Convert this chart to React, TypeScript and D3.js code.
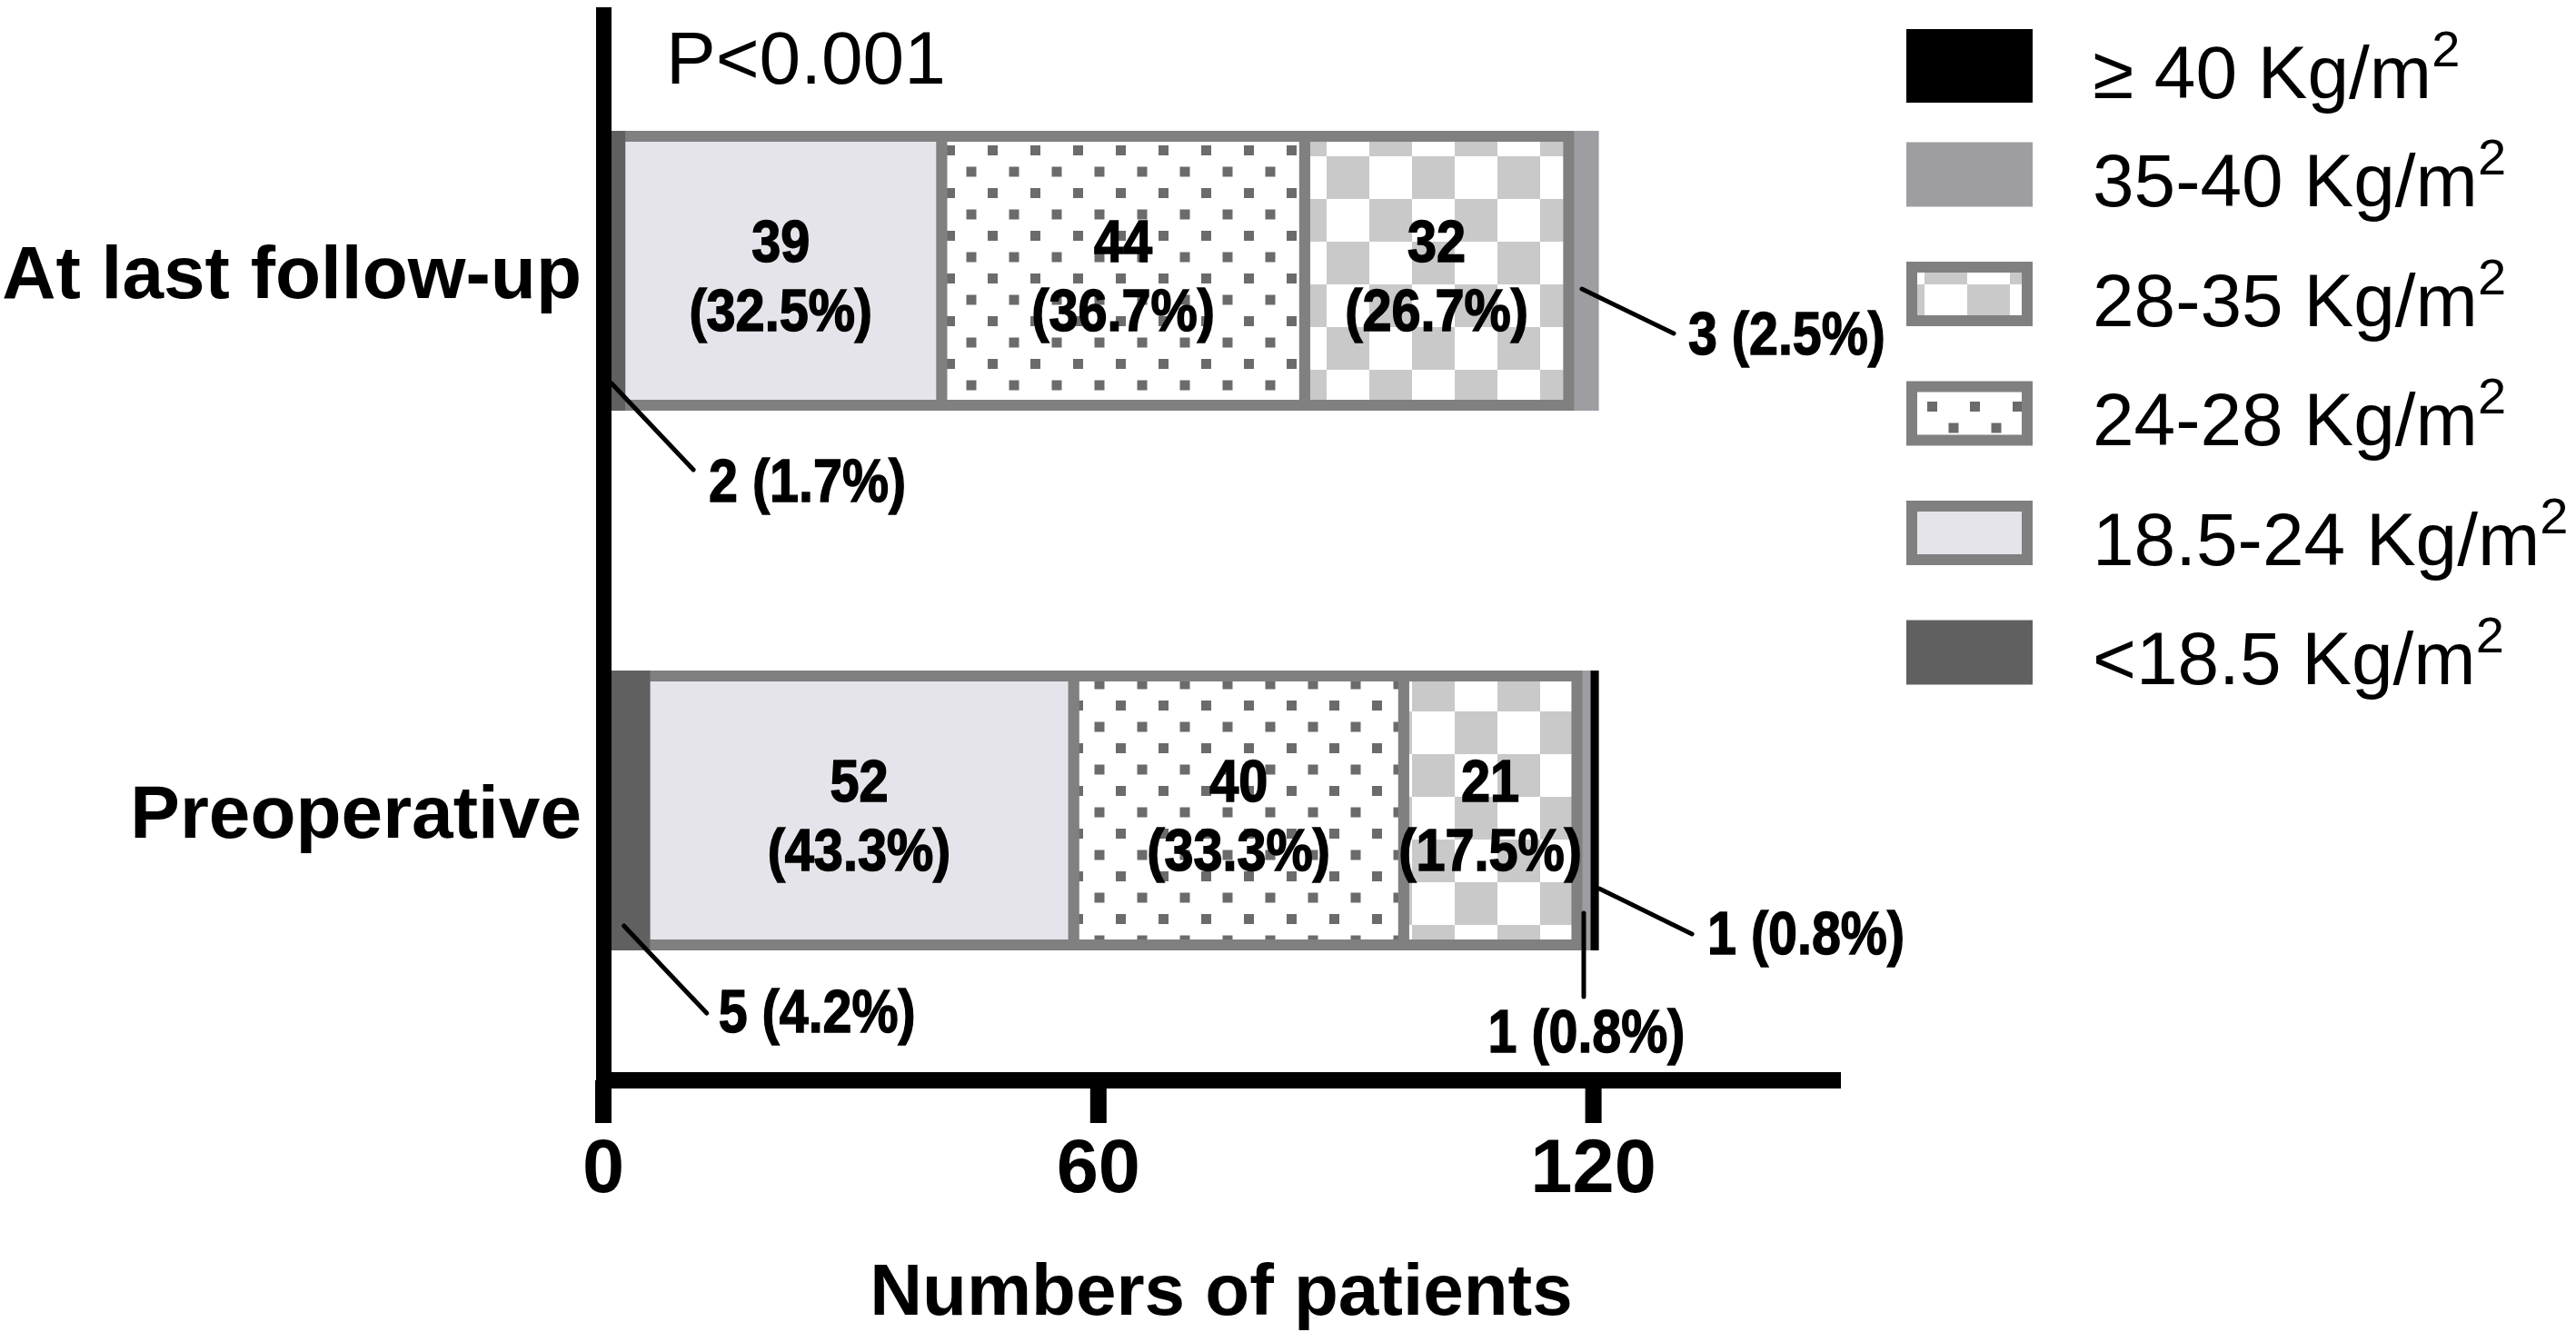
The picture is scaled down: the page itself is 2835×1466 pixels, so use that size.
import React from "react";
import * as d3 from "d3";

// ---------- data ----------
const categories = ["At last follow-up", "Preoperative"];
const seriesKeys = ["<18.5", "18.5-24", "24-28", "28-35", "35-40", "≥40"];
const legendLabels = ["<18.5", "18.5-24", "24-28", "28-35", "35-40", "≥ 40"];
const lastFollowUpCounts = [2, 39, 44, 32, 3, 0];
const preoperativeCounts = [5, 52, 40, 21, 1, 1];
const xTicks = [0, 60, 120];
const xMax = 150;
const pValueText = "P<0.001";
const xTitle = "Numbers of patients";
const unitText = " Kg/m";

// ---------- styles ----------
const BORDER = "#808080";
const fills: Record<string, string> = {
  "<18.5": "#606060",
  "18.5-24": "#e4e4ea",
  "24-28": "url(#dots)",
  "28-35": "url(#checker)",
  "35-40": "#9d9da2",
  "≥40": "#000000",
};
const strokes: Record<string, string> = {
  "<18.5": "#606060",
  "18.5-24": BORDER,
  "24-28": BORDER,
  "28-35": BORDER,
  "35-40": "#9d9da2",
  "≥40": "#000000",
};
const borderedKeys = ["18.5-24", "24-28", "28-35"];
const insideKeys = ["18.5-24", "24-28", "28-35"];

// callout layout: offsets relative to the segment centre (layout only)
const calloutLayout = [
  { cat: 0, key: "<18.5", sx: 0, sy: 124, ex: 90, ey: 219, tx: 107, ty: 254, anchor: "start" },
  { cat: 0, key: "35-40", sx: 1, sy: 20, ex: 102, ey: 69, tx: 118, ty: 92, anchor: "start" },
  { cat: 1, key: "<18.5", sx: 0, sy: 127, ex: 91, ey: 223, tx: 104, ty: 244, anchor: "start" },
  { cat: 1, key: "35-40", sx: 3, sy: 113, ex: 3, ey: 205, tx: 6, ty: 266, anchor: "middle" },
  { cat: 1, key: "≥40", sx: 11, sy: 86, ex: 113, ey: 136, tx: 130, ty: 158, anchor: "start" },
];

const FONT = "'Liberation Sans', Arial, Helvetica, sans-serif";

export default function App() {
  const W = 2835;
  const H = 1466;
  const x = d3.scaleLinear().domain([0, xMax]).range([664, 2026]);
  const y = d3.scalePoint<string>().domain(categories).range([298, 892]);
  const barH = 296;
  const sw = 12;

  const countsByCat = [lastFollowUpCounts, preoperativeCounts];
  const table = categories.map((c, i) => {
    const row: any = { category: c };
    seriesKeys.forEach((k, j) => (row[k] = countsByCat[i][j]));
    return row;
  });
  const stacked = d3.stack<any>().keys(seriesKeys)(table);
  const totals = countsByCat.map((a) => d3.sum(a));

  const seg = (ci: number, key: string) => {
    const s = stacked.find((d) => d.key === key)!;
    return s[ci];
  };
  const pct = (v: number, ci: number) => ((v / totals[ci]) * 100).toFixed(1) + "%";

  const axisY = 1189;
  const legendKeys = [...seriesKeys].reverse();
  const legendLabelsRev = [...legendLabels].reverse();
  const rowCenter = (i: number) => (i === 0 ? 72.5 : 192 + (i - 1) * 131.5);

  return (
    <svg
      width={W}
      height={H}
      viewBox={`0 0 ${W} ${H}`}
      style={{ position: "absolute", left: 0, top: 0, background: "#fff" }}
      fontFamily={FONT}
    >
      <defs>
        <pattern id="dots" patternUnits="userSpaceOnUse" width={47} height={47} x={1040} y={160}>
          <rect width={47} height={47} fill="#ffffff" />
          <rect x={0} y={0} width={11} height={11} fill="#6b6b6b" />
          <rect x={23.5} y={23.5} width={11} height={11} fill="#6b6b6b" />
        </pattern>
        <pattern id="checker" patternUnits="userSpaceOnUse" width={94} height={94} x={50} y={78}>
          <rect width={94} height={94} fill="#ffffff" />
          <rect x={0} y={0} width={47} height={47} fill="#c9c9c9" />
          <rect x={47} y={47} width={47} height={47} fill="#c9c9c9" />
        </pattern>
      </defs>
      <rect width={W} height={H} fill="#ffffff" />

      {/* bars, drawn top-of-stack first */}
      {[...stacked].reverse().map((s) => (
        <g key={s.key}>
          {s.map((d, ci) => {
            if (d[1] - d[0] <= 0) return null;
            const cy = y(categories[ci])!;
            return (
              <rect
                key={ci}
                x={x(d[0])}
                y={cy - barH / 2}
                width={x(d[1]) - x(d[0])}
                height={barH}
                fill={fills[s.key]}
                stroke={strokes[s.key]}
                strokeWidth={sw}
              />
            );
          })}
        </g>
      ))}

      {/* inside labels */}
      {categories.map((c, ci) =>
        insideKeys.map((k) => {
          const d = seg(ci, k);
          const v = d[1] - d[0];
          const cx = x((d[0] + d[1]) / 2);
          const cy = y(c)!;
          return (
            <g
              key={c + k}
              fontWeight="bold"
              fontSize={64}
              textAnchor="middle"
              fill="#000"
              stroke="#000"
              strokeWidth={1.6}
            >
              <text transform={`translate(${cx},${cy - 10}) scale(0.9,1)`}>{v}</text>
              <text transform={`translate(${cx},${cy + 66}) scale(0.9,1)`}>({pct(v, ci)})</text>
            </g>
          );
        })
      )}

      {/* callouts */}
      {calloutLayout.map((o, i) => {
        const d = seg(o.cat, o.key);
        const v = d[1] - d[0];
        const cx = x((d[0] + d[1]) / 2);
        const cy = y(categories[o.cat])!;
        return (
          <g key={i}>
            <line
              x1={cx + o.sx}
              y1={cy + o.sy}
              x2={cx + o.ex}
              y2={cy + o.ey}
              stroke="#000"
              strokeWidth={5}
              strokeLinecap="round"
            />
            <text
              transform={`translate(${cx + o.tx},${cy + o.ty}) scale(0.87,1)`}
              fontWeight="bold"
              fontSize={66}
              stroke="#000"
              strokeWidth={1.4}
              textAnchor={o.anchor as any}
            >
              {v} ({pct(v, o.cat)})
            </text>
          </g>
        );
      })}

      {/* axes */}
      <rect x={656} y={8} width={17} height={1236 - 8} fill="#000" />
      <rect x={656} y={axisY - 9} width={x(xMax) - 656} height={18} fill="#000" />
      {xTicks.map((t) => (
        <g key={t}>
          <rect x={x(t) - 9} y={axisY} width={18} height={1236 - axisY} fill="#000" />
          <text x={x(t)} y={1312} textAnchor="middle" fontWeight="bold" fontSize={83}>
            {t}
          </text>
        </g>
      ))}
      <text x={1344} y={1447} textAnchor="middle" fontWeight="bold" fontSize={80}>
        {xTitle}
      </text>

      {/* category labels */}
      {categories.map((c) => (
        <text key={c} x={640} y={y(c)! + 30} textAnchor="end" fontWeight="bold" fontSize={82}>
          {c}
        </text>
      ))}

      {/* p value */}
      <text x={733} y={92} fontSize={82}>
        {pValueText}
      </text>

      {/* legend */}
      {legendKeys.map((k, i) => {
        const cy = rowCenter(i);
        const bordered = borderedKeys.includes(k);
        const bigH = k === "≥40" ? 81 : 71;
        return (
          <g key={k}>
            {bordered ? (
              <rect
                x={2104}
                y={cy - 29.5}
                width={127}
                height={59}
                fill={fills[k]}
                stroke={BORDER}
                strokeWidth={sw}
              />
            ) : (
              <rect x={2098} y={cy - bigH / 2} width={139} height={bigH} fill={fills[k]} />
            )}
            <text x={2303} y={cy + 35} fontSize={82}>
              {legendLabelsRev[i]}
              {unitText}
              <tspan fontSize={56} dy={-35}>
                2
              </tspan>
            </text>
          </g>
        );
      })}
    </svg>
  );
}
